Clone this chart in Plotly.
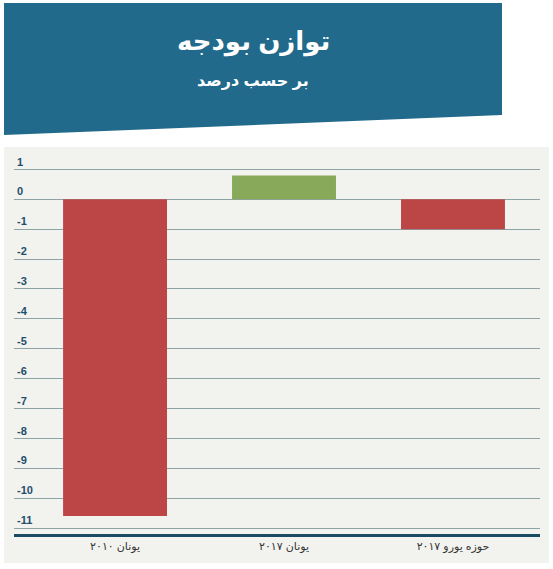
import plotly.graph_objects as go

categories = ["یونان ۲۰۱۰", "یونان ۲۰۱۷", "حوزه یورو ۲۰۱۷"]
values = [-10.6, 0.8, -1.0]
bar_colors = ["#bc4646", "#88a85a", "#bc4646"]
y_ticks = list(range(1, -12, -1))
title = "توازن بودجه"
subtitle = "بر حسب درصد"

W, H = 553, 569
L, R, T, B = 14, 13, 147, 35
pw, ph = W - L - R, H - T - B

def px(x):
    return (x - L) / pw

def py(y):
    return (H - B - y) / ph

fig = go.Figure()
fig.add_trace(go.Bar(
    x=[0, 1, 2], y=values, marker=dict(color=bar_colors, line=dict(width=0)),
    width=0.615, hoverinfo="skip",
))

shapes = [
    dict(type="rect", xref="paper", yref="paper", x0=px(4), x1=px(549), y0=py(563), y1=py(147),
         fillcolor="#f2f2ee", line=dict(width=0), layer="below"),
    dict(type="path", xref="paper", yref="paper",
         path=f"M {px(4)},{py(3)} L {px(502)},{py(3)} L {px(502)},{py(115)} L {px(4)},{py(135)} Z",
         fillcolor="#216a8b", line=dict(width=0), layer="below"),
]

annotations = [
    dict(text=f"<b>{title}</b>", xref="paper", yref="paper", x=px(253), y=py(42),
         showarrow=False, font=dict(size=26, color="white", family="Arial, Liberation Sans, DejaVu Sans"),
         xanchor="center", yanchor="middle"),
    dict(text=f"<b>{subtitle}</b>", xref="paper", yref="paper", x=px(253), y=py(81),
         showarrow=False, font=dict(size=16, color="white", family="Arial, Liberation Sans, DejaVu Sans"),
         xanchor="center", yanchor="middle"),
]

fig.update_layout(
    width=W, height=H, margin=dict(l=L, r=R, t=T, b=B),
    paper_bgcolor="white", plot_bgcolor="rgba(0,0,0,0)",
    shapes=shapes, annotations=annotations, showlegend=False,
    font=dict(family="Arial, Liberation Sans, DejaVu Sans"),
    bargap=0.385,
)
fig.update_xaxes(
    range=[-0.598, 2.515], tickmode="array", tickvals=[0, 1, 2], ticktext=categories,
    showgrid=False, zeroline=False, showline=True, linecolor="#1b4a63", linewidth=3,
    ticks="", tickfont=dict(size=11, color="#333333"), fixedrange=True,
)
fig.update_yaxes(
    range=[-11.2, 1.75], tickmode="array", tickvals=y_ticks, ticktext=[f"<b>{v}</b>" for v in y_ticks],
    showgrid=True, gridcolor="#8ea3a6", gridwidth=1, zeroline=True, zerolinecolor="#8ea3a6",
    zerolinewidth=1, ticks="", ticklabelposition="inside top",
    tickfont=dict(size=11, color="#1f4e6b"), showline=False, fixedrange=True,
)
fig.write_html("out.html", config={"displayModeBar": False},
               post_script="document.body.style.margin='0';document.body.style.overflow='hidden';")
